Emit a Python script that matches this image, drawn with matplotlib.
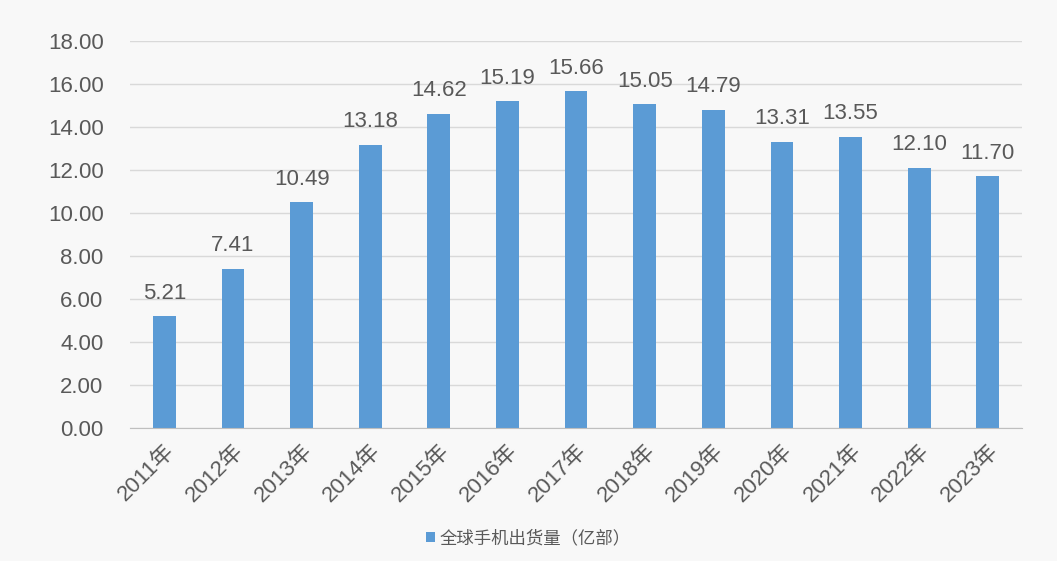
import matplotlib
matplotlib.use("Agg")
import matplotlib.pyplot as plt

plt.rcParams['font.family'] = ['Liberation Sans', 'Noto Sans CJK SC', 'DejaVu Sans']

years = ["2011年", "2012年", "2013年", "2014年", "2015年", "2016年", "2017年",
         "2018年", "2019年", "2020年", "2021年", "2022年", "2023年"]
values = [5.21, 7.41, 10.49, 13.18, 14.62, 15.19, 15.66, 15.05, 14.79, 13.31, 13.55, 12.10, 11.70]
series_name = "全球手机出货量（亿部）"
yticks = [0, 2, 4, 6, 8, 10, 12, 14, 16, 18]

bg = "#f8f8f8"
bar_color = "#5b9bd5"
text_color = "#595959"

fig = plt.figure(figsize=(10.57, 5.61), dpi=100, facecolor=bg)
ax = fig.add_axes([0.123, 0.237, 0.844, 0.690], facecolor=bg)

x = list(range(len(years)))
bars = ax.bar(x, values, width=0.33, color=bar_color, label=series_name, zorder=3)

for xi, v in zip(x, values):
    ax.annotate(f"{v:.2f}", xy=(xi, v), xytext=(0, 9), textcoords='offset points',
                ha='center', va='bottom', fontsize=16, color=text_color, zorder=4)

ax.set_xlim(-0.5, len(years) - 0.5)
ax.set_ylim(0, 18)
ax.set_yticks(yticks)
ax.set_yticklabels([f"{t:.2f}" for t in yticks], fontsize=16, color=text_color)
ax.set_xticks(x)
ax.set_xticklabels(years, rotation=45, ha='right', rotation_mode='anchor',
                   fontsize=16, color=text_color)

ax.grid(axis='y', color='#d9d9d9', linewidth=1, zorder=0)
for s in ['top', 'right', 'left']:
    ax.spines[s].set_visible(False)
ax.spines['bottom'].set_color('#bfbfbf')
ax.spines['bottom'].set_zorder(5)
ax.tick_params(axis='both', length=0)
ax.tick_params(axis='y', pad=19)
ax.tick_params(axis='x', pad=9)

leg = fig.legend(handles=[bars], labels=[series_name], loc='center',
                 bbox_to_anchor=(0.5, 0.041), frameon=False, fontsize=12.5,
                 handlelength=0.5, handleheight=0.5, handletextpad=0.25)
for t in leg.get_texts():
    t.set_color(text_color)

fig.savefig("out.png", dpi=100, facecolor=bg)
